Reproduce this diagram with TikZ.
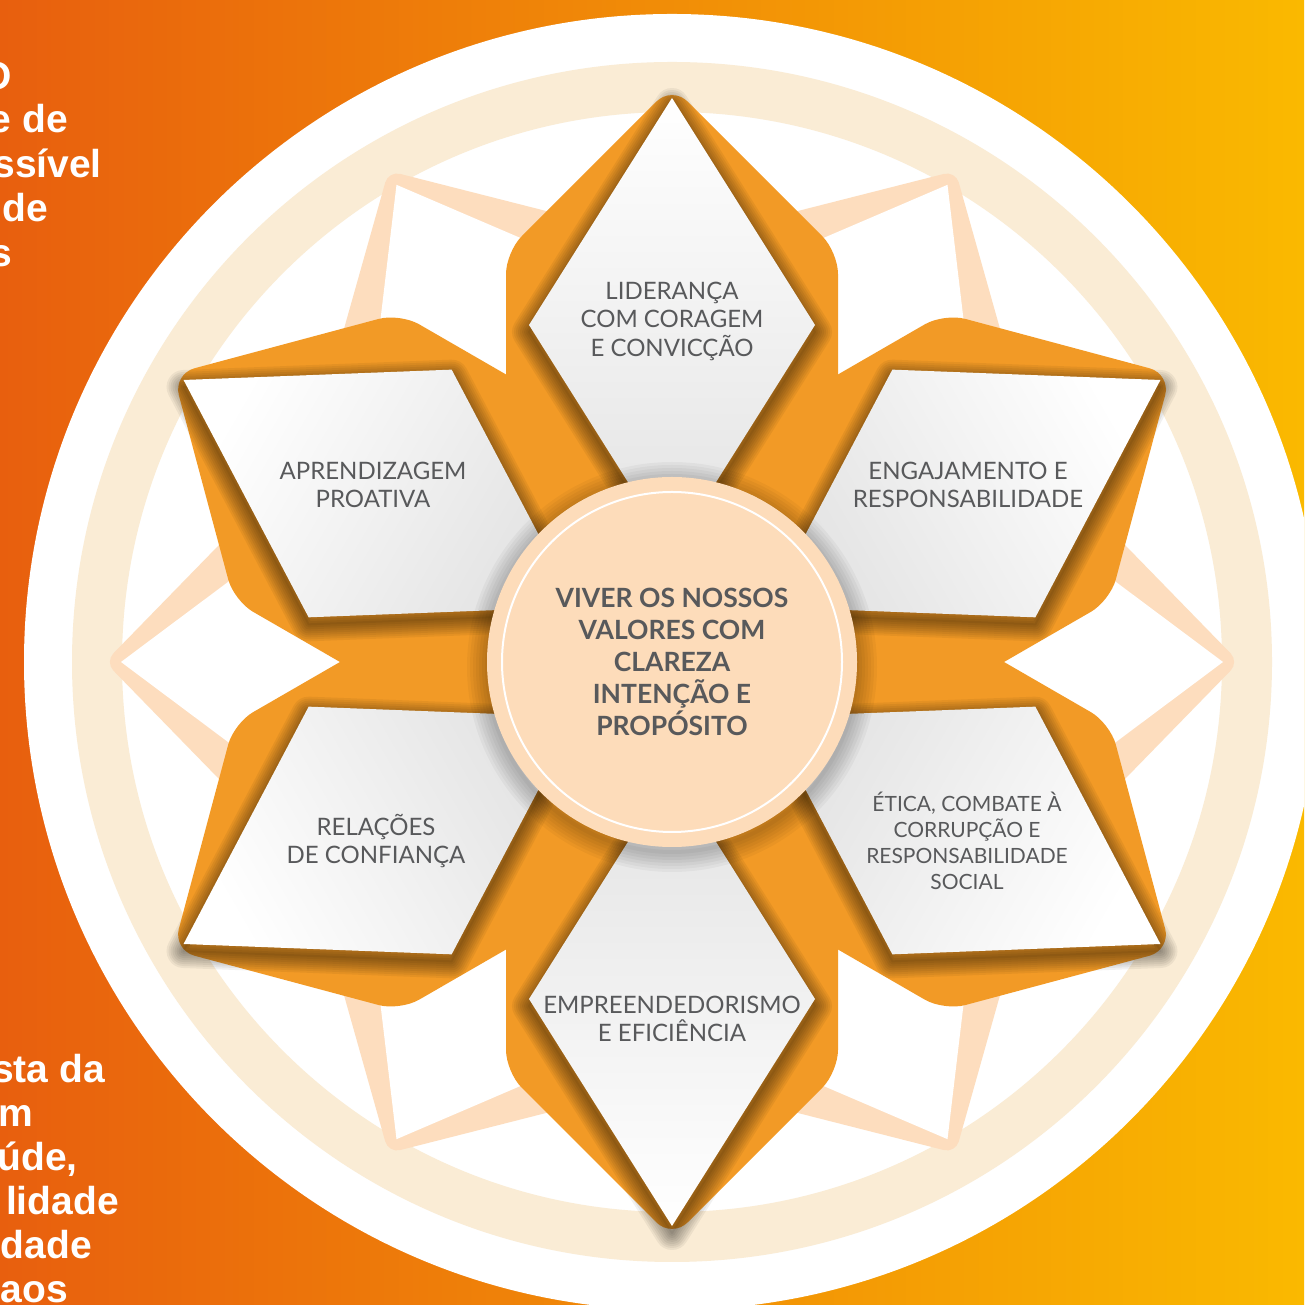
\documentclass[tikz,border=0pt]{standalone}
\usepackage{fontspec}
\usepackage{tikz}
\usepackage{xcolor}
\setmainfont{Lato}
\newfontfamily\sidefont{Liberation Sans}
\definecolor{bgleft}{RGB}{232,95,14}
\definecolor{bgright}{RGB}{250,185,0}
\definecolor{ringcream}{RGB}{250,236,213}
\definecolor{starpeach}{RGB}{253,221,190}
\definecolor{petalorange}{RGB}{242,154,38}
\definecolor{hubpeach}{RGB}{253,220,186}
\definecolor{valuegray}{RGB}{88,89,91}
\newcommand{\Petal}{(-166,0) -- (-166,410) -- (0,576) -- (166,410) -- (166,0) -- cycle}
\newcommand{\Rhomb}{(0,564) -- (-143,337) -- (0,110) -- (143,337) -- cycle}
\tikzset{
  valuetext/.style={align=center,text=valuegray,font=\fontsize{24}{28.5}\selectfont},
  sideline/.style={anchor=base east,text=white,inner sep=0pt,font=\sidefont\bfseries\fontsize{39}{44}\selectfont}
}

\begin{document}
\begin{tikzpicture}[x=1pt,y=1pt]
\useasboundingbox (0,0) rectangle (1304,1305);
\clip (0,0) rectangle (1304,1305);
\shade[left color=bgleft,right color=bgright] (0,0) rectangle (1304,1305);
\coordinate (hub) at (672,643);
\fill[white] (hub) circle (648);
\draw[ringcream,line width=50pt] (hub) circle (575);
% compass star behind the petals
\begin{scope}[shift={(hub)}]
\fill[starpeach,rounded corners=12pt] (-30:419) \foreach \a in {0,60,...,240} { -- (\a:567) -- (\a+30:419) } -- (300:567) -- cycle;
\fill[white] (-30:359) \foreach \a in {0,60,...,240} { -- (\a:551) -- (\a+30:359) } -- (300:551) -- cycle;
\end{scope}
% petals
\foreach \k in {0,...,5} {
  \begin{scope}[shift={(hub)},rotate=60*\k]
  \fill[petalorange,rounded corners=22pt] \Petal;
  \end{scope}
}
% soft shadows, then the value cards
\foreach \k in {0,...,5} {
  \begin{scope}[shift={(hub)},rotate=60*\k]
  \foreach \w in {34,30,...,2}
    \draw[black,opacity=0.055,line width=\w pt,line join=round,transform canvas={yshift=-7pt}] \Rhomb;
  \end{scope}
}
\foreach \k in {0,...,5} {
  \begin{scope}[shift={(hub)},rotate=60*\k]
  \shade[top color=white,bottom color=black!11,shading angle=60*\k] \Rhomb;
  \end{scope}
}
% hub
\foreach \w in {40,34,...,4}
  \draw[black,opacity=0.035,line width=\w pt,transform canvas={yshift=-5pt}] (hub) circle (185);
\fill[hubpeach] (hub) circle (185);
\draw[white,line width=2pt] (hub) circle (170);
\node[align=center,text=valuegray,font=\bfseries\fontsize{26.5}{32}\selectfont] (viver) at (hub) {VIVER OS NOSSOS\\VALORES COM\\CLAREZA\\INTENÇÃO E\\PROPÓSITO};
\node[valuetext] (lider) at (672,984) {LIDERANÇA\\COM CORAGEM\\E CONVICÇÃO};
\node[valuetext] (aprend) at (373,820) {APRENDIZAGEM\\PROATIVA};
\node[valuetext] (engaj) at (968,820) {ENGAJAMENTO E\\RESPONSABILIDADE};
\node[valuetext,font=\fontsize{21}{26}\selectfont] (etica) at (967,464) {ÉTICA, COMBATE À\\CORRUPÇÃO E\\RESPONSABILIDADE\\SOCIAL};
\node[valuetext] (relac) at (376,464) {RELAÇÕES\\DE CONFIANÇA};
\node[valuetext] (empre) at (672,286) {EMPREENDEDORISMO\\E EFICIÊNCIA};
% cut text on the left
\foreach \txt/\xr/\yb [count=\n] in {O/12/1215,e de/68/1172,ssível/102/1127,de/48/1083,s/12/1038}
  \node[sideline] (upper\n) at (\xr,\yb) {\txt};
\foreach \txt/\xr/\yb [count=\n] in {sta da/105/222,m/33/178,{úde,}/78/134,lidade/119/90,dade/92/46,aos/68/2}
  \node[sideline] (lower\n) at (\xr,\yb) {\txt};
\end{tikzpicture}
\end{document}
